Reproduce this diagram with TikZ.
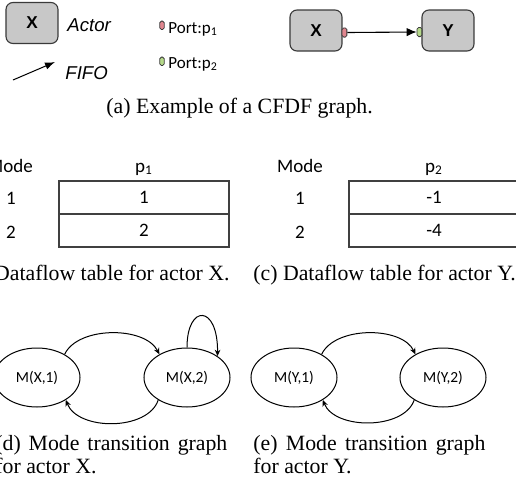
\documentclass[tikz,border=0pt]{standalone}
\usepackage{fontspec}
\setmainfont{Liberation Serif}
\newfontfamily\calibrifont{Carlito}
\newfontfamily\arialfont{Liberation Sans}
\usetikzlibrary{arrows.meta,shapes.geometric}
\definecolor{actorfill}{HTML}{C8C8C8}
\definecolor{edgegray}{HTML}{3A3A3A}
\definecolor{portred}{HTML}{E0868F}
\definecolor{portgreen}{HTML}{B5D98A}
\definecolor{tablegray}{HTML}{404040}

\begin{document}
\begin{tikzpicture}[x=0.5pt,y=-0.5pt,
  actor/.style={draw=edgegray, line width=0.55pt, fill=actorfill,
    rounded corners=3.5pt, minimum width=26pt, minimum height=20.5pt,
    inner sep=0pt, font=\arialfont\bfseries\fontsize{8.6}{10}\selectfont},
  portbox/.style={draw=edgegray, line width=0.4pt, rounded corners=0.8pt,
    inner sep=0pt, minimum width=2.4pt, minimum height=4.6pt},
  legendtext/.style={inner sep=0pt, font=\arialfont\itshape\fontsize{9.3}{11}\selectfont},
  porttext/.style={inner sep=0pt, font=\calibrifont\fontsize{8.5}{10}\selectfont},
  tabtext/.style={inner sep=0pt, font=\calibrifont\fontsize{9.5}{11}\selectfont},
  tabrow/.style={draw=tablegray, line width=0.55pt, minimum width=85pt,
    minimum height=16.5pt, inner sep=0pt, font=\calibrifont\fontsize{9.5}{11}\selectfont},
  mode/.style={ellipse, draw, line width=0.5pt, minimum width=43pt,
    minimum height=29.5pt, inner sep=0pt, font=\calibrifont\fontsize{7.7}{9}\selectfont},
  caption/.style={inner sep=0pt, font=\fontsize{10.9}{13}\selectfont},
  trans/.style={line width=0.5pt, -{Stealth[length=3.2pt,width=2.8pt]}},
]
\useasboundingbox (0,0) rectangle (516,483);
\clip (0,0) rectangle (516,483);

% ---- legend ----
\node[actor] (legactor) at (32,23) {X};
\node[legendtext, anchor=base west] (actorlbl) at (67,31) {Actor};
\coordinate (fifoA) at (13,80);
\coordinate (fifoB) at (55,62);
\draw[line width=0.5pt, -{Latex[length=5pt,width=3.6pt]}] (fifoA) -- (fifoB);
\node[legendtext, anchor=base west] (fifolbl) at (65,79) {FIFO};
\node[portbox, fill=portred, minimum height=4.2pt, minimum width=2.2pt] (legp1) at (162,25.3) {};
\node[porttext, anchor=base west] (legp1lbl) at (168,33) {Port:p\textsubscript{1}};
\node[portbox, fill=portgreen, minimum height=4.2pt, minimum width=2.2pt] (legp2) at (162,61.3) {};
\node[porttext, anchor=base west] (legp2lbl) at (168,68) {Port:p\textsubscript{2}};

% ---- CFDF graph ----
\node[actor] (X) at (316,30.5) {X};
\node[actor] (Y) at (448,30.5) {Y};
\node[portbox, fill=portred] (px) at (344.5,32.5) {};
\node[portbox, fill=portgreen] (py) at (419.5,32) {};
\draw[line width=0.55pt, -{Latex[length=5pt,width=4.2pt]}] (px.east) -- (py.west);
\node[caption, anchor=base west] (capa) at (106,113) {(a) Example of a CFDF graph.};

% ---- dataflow table of X ----
\node[tabtext, anchor=base] (xmode) at (10,172) {Mode};
\node[tabtext, anchor=base] (xport) at (144,172) {p\textsubscript{1}};
\node[tabtext, anchor=base] (xm1) at (11,204) {1};
\node[tabtext, anchor=base] (xm2) at (11,238) {2};
\node[tabrow] (xr1) at (144,197.5) {1};
\node[tabrow] (xr2) at (144,230.5) {2};
\node[caption, anchor=base east] (capb) at (230,280) {(b) Dataflow table for actor X.};

% ---- dataflow table of Y ----
\node[tabtext, anchor=base] (ymode) at (300,172) {Mode};
\node[tabtext, anchor=base] (yport) at (434,172) {p\textsubscript{2}};
\node[tabtext, anchor=base] (ym1) at (300,204) {1};
\node[tabtext, anchor=base] (ym2) at (300,238) {2};
\node[tabrow] (yr1) at (434,197.5) {-1};
\node[tabrow] (yr2) at (434,230.5) {-4};
\node[caption, anchor=base west] (capc) at (253,280) {(c) Dataflow table for actor Y.};

% ---- mode transition graph of X ----
\node[mode] (X1) at (37,377.5) {M(X,1)};
\node[mode] (X2) at (187,377.5) {M(X,2)};
\draw[trans] (X1.40) .. controls (78,326) and (145,326) .. (X2.140);
\draw[trans] (X2.218) .. controls (148,431) and (78,431) .. (X1.322);
\draw[trans] (X2.90) .. controls (187,304) and (218,304) .. (X2.35);
\node[caption, anchor=base west] (capd1) at (-5,450) {\makebox[116pt][s]{(d) Mode transition graph}};
\node[caption, anchor=base west] (capd2) at (-5,473) {for actor X.};

% ---- mode transition graph of Y ----
\node[mode] (Y1) at (294,377.5) {M(Y,1)};
\node[mode] (Y2) at (443,377.5) {M(Y,2)};
\draw[trans] (Y1.40) .. controls (335,326) and (402,326) .. (Y2.140);
\draw[trans] (Y2.218) .. controls (404,430) and (335,430) .. (Y1.322);
\node[caption, anchor=base west] (cape1) at (253,450) {\makebox[116pt][s]{(e) Mode transition graph}};
\node[caption, anchor=base west] (cape2) at (253,473) {for actor Y.};
\end{tikzpicture}
\end{document}
